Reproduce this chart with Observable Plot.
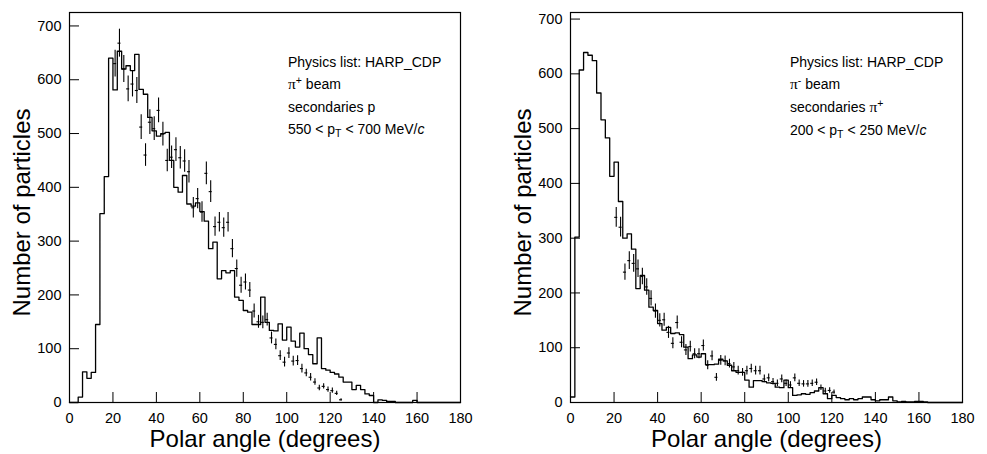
<!DOCTYPE html>
<html><head><meta charset="utf-8">
<script src="https://cdn.jsdelivr.net/npm/d3@7"></script>
<script src="https://cdn.jsdelivr.net/npm/@observablehq/plot@0.6"></script>
<style>
body{margin:0;background:#fff;}
#wrap{position:relative;width:987px;height:454px;overflow:hidden;font-family:"Liberation Sans",Arial,sans-serif;background:#fff;}
.panel{position:absolute;top:0;}
.note{position:absolute;font-size:14px;line-height:22px;color:#000;white-space:nowrap;}
.pi{font-family:"Liberation Serif","DejaVu Serif",serif;font-size:15.5px;}
.sup{position:relative;top:-0.45em;font-size:0.75em;}
.sub{position:relative;top:0.3em;font-size:0.75em;}
</style></head><body><div id="wrap"></div>
<script>
// bin edges (degrees) shared by both histograms
const binEdges = [0,2,4,6,8,10,12,14,16,18,20,22,24,26,28,30,32,34,36,38,40,42,44,46,48,50,52,54,56,58,60,62,64,66,68,70,72,74,76,78,80,82,84,86,88,90,92,94,96,98,100,102,104,106,108,110,112,114,116,118,120,122,124,126,128,130,132,134,136,138,140,142,144,146,148,150,152,154,156,158,160,162,164,166,168,170,172,174,176,178,180];

// Left panel: pi+ beam, secondaries p, 550 < pT < 700 MeV/c  (simulation histogram, one value per bin)
const leftHist = [0,0,10,57,45,56,145,351,420,640,581,653,620,626,617,647,582,573,530,505,495,500,502,450,400,391,422,369,365,371,355,337,286,298,230,245,241,245,196,190,171,168,145,145,196,149,134,133,146,116,140,114,103,129,100,89,72,120,63,60,56,53,47,38,38,24,32,24,16,13,0,5,4,2,2,0,0,0,0,4,0,0,0,0,0,0,0,0,0,0];
// Left panel: data points
const leftAngle = [21,23,25,27,29,31,33,35,37,39,41,43,45,47,49,51,53,55,57,59,61,63,65,67,69,71,73,75,77,79,81,83,85,87,89,91,93,95,97,99,101,103,105,107,109,111,113,115,117,119,121,123,125];
const leftValue = [630,668,620,583,592,580,512,460,521,509,543,499,450,456,470,455,449,429,362,379,354,426,392,327,335,325,335,286,249,218,224,209,170,150,149,154,120,108,87,75,92,77,78,63,55,47,38,27,30,24,22,17,5];
const leftError = [25,26,25,24,24,24,23,21,23,22,23,22,21,21,22,21,21,21,19,19,19,21,20,18,18,18,18,17,16,15,15,14,13,12,12,12,11,10,9,9,10,9,9,8,7,7,6,5,5,5,5,4,2];

// Right panel: pi- beam, secondaries pi+, 200 < pT < 250 MeV/c
const rightHist = [10,302,607,639,634,624,565,516,483,413,439,367,300,308,280,208,232,205,174,168,144,132,137,126,127,124,101,80,87,83,89,69,69,70,79,76,68,58,55,55,41,28,40,40,38,36,35,28,27,41,27,13,14,16,15,18,21,27,16,7,13,9,7,5,7,5,7,10,10,5,3,5,5,10,3,1,2,1,1,2,2,1,0,0,0,0,0,0,0,0];
const rightAngle = [21,23,25,27,29,31,33,35,37,39,41,43,45,47,49,51,53,55,57,59,61,63,65,67,69,71,73,75,77,79,81,83,85,87,89,91,93,95,97,99,101,103,105,107,109,111,113,115,117,119,121];
const rightValue = [338,320,238,259,254,244,230,211,190,167,150,151,128,108,146,110,96,102,89,89,104,68,85,46,77,76,71,65,58,55,58,62,58,58,43,45,38,35,43,35,32,45,35,34,34,35,37,27,21,22,19];
const rightError = [18,18,15,16,16,16,15,15,14,13,12,12,11,10,12,10,10,10,9,9,10,8,9,7,9,9,8,8,8,7,8,8,8,8,7,7,6,6,7,6,6,7,6,6,6,6,6,5,5,5,4];

const xTicks = [0,20,40,60,80,100,120,140,160,180];
const yTicks = [0,100,200,300,400,500,600,700];

const xTitle = "Polar angle (degrees)";
const yTitle = "Number of particles";

function panel({hist, angle, value, error, yMax, left, width, marginLeft, marginRight}) {
  const H = 454, marginTop = 12, marginBottom = 52;
  const frameW = width - marginLeft - marginRight, frameH = H - marginTop - marginBottom;
  const histData = binEdges.map((x, i) => ({x, y: i < hist.length ? hist[i] : 0}));
  const pts = angle.map((a, i) => ({a, v: value[i], e: error[i]}));
  const svg = Plot.plot({
    width, height: H, marginLeft, marginRight, marginTop, marginBottom,
    style: {fontFamily: "'Liberation Sans', Arial, sans-serif", fontSize: "14.5px", background: "#fff", color: "#000", overflow: "visible"},
    x: {domain: [0, 180]},
    y: {domain: [0, yMax]},
    marks: [
      Plot.line(histData, {x: "x", y: "y", curve: "step-after", stroke: "#000", strokeWidth: 1.3}),
      Plot.ruleX(pts, {x: "a", y1: d => d.v - d.e, y2: d => d.v + d.e, stroke: "#000", strokeWidth: 1.1}),
      Plot.ruleY(pts, {y: "v", x1: d => d.a - 0.7, x2: d => d.a + 0.7, stroke: "#000", strokeWidth: 1.1}),
      Plot.tickX(xTicks, {x: d => d, insetTop: frameH - 10, stroke: "#000", strokeWidth: 1}),
      Plot.tickY(yTicks, {y: d => d, insetRight: frameW - 10, stroke: "#000", strokeWidth: 1}),
      Plot.axisX({ticks: xTicks, tickSize: 0, tickPadding: 10, fontSize: 14.5, label: null}),
      Plot.axisY({ticks: yTicks, tickSize: 0, tickPadding: 8, fontSize: 14.5, label: null}),
      Plot.frame({stroke: "#000", strokeWidth: 1.2}),
      Plot.text([xTitle], {frameAnchor: "bottom", textAnchor: "middle", lineAnchor: "middle", dy: 37, fontSize: 24, fill: "#000"}),
      Plot.text([yTitle], {frameAnchor: "left", textAnchor: "middle", lineAnchor: "middle", rotate: -90, dx: -47, dy: 5, fontSize: 24, fill: "#000"})
    ]
  });
  svg.classList.add("panel");
  svg.style.left = left + "px";
  document.getElementById("wrap").appendChild(svg);
}

panel({hist: leftHist, angle: leftAngle, value: leftValue, error: leftError, yMax: 725, left: 0, width: 493, marginLeft: 69, marginRight: 33});
panel({hist: rightHist, angle: rightAngle, value: rightValue, error: rightError, yMax: 712, left: 500, width: 487, marginLeft: 70, marginRight: 25});

function note(x, y, html) {
  const d = document.createElement("div");
  d.className = "note";
  d.style.left = x + "px";
  d.style.top = y + "px";
  d.innerHTML = html;
  document.getElementById("wrap").appendChild(d);
}
note(288, 51, 'Physics list: HARP_CDP<br><span class="pi">π</span><span class="sup">+</span> beam<br>secondaries p<br>550 &lt; p<span class="sub">T</span> &lt; 700 MeV/<i>c</i>');
note(790, 51, 'Physics list: HARP_CDP<br><span class="pi">π</span><span class="sup">-</span> beam<br>secondaries <span class="pi">π</span><span class="sup">+</span><br>200 &lt; p<span class="sub">T</span> &lt; 250 MeV/<i>c</i>');
</script></body></html>
